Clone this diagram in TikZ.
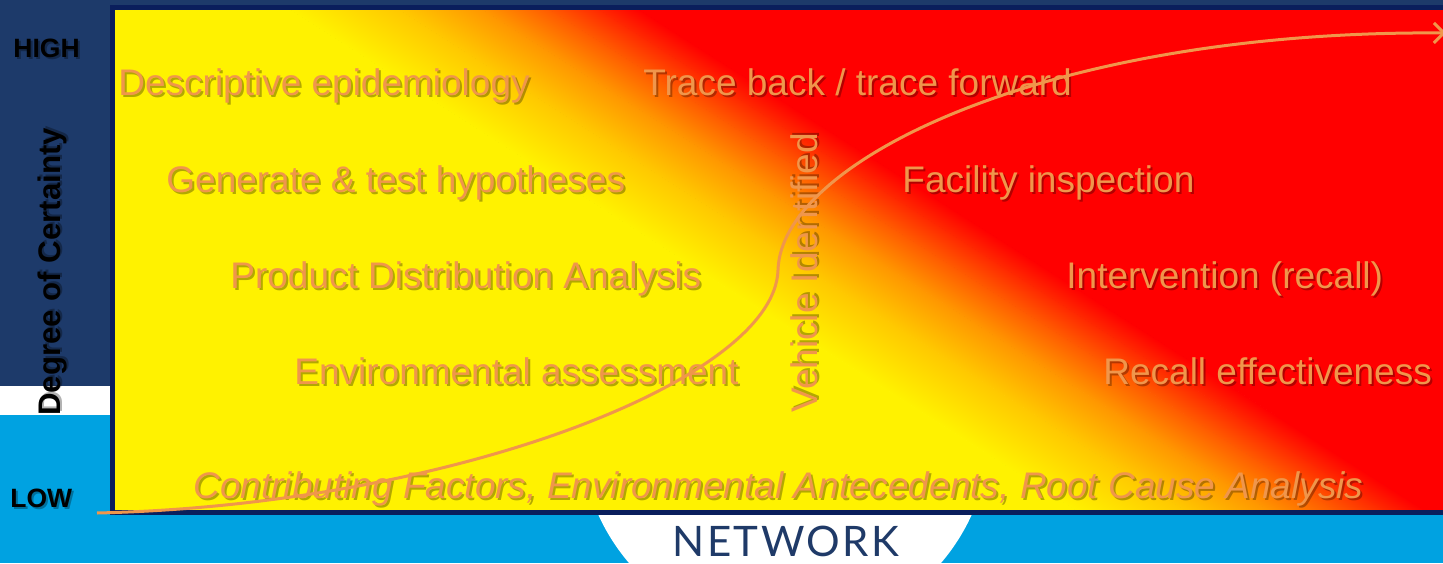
\documentclass[tikz,border=0pt]{standalone}
\usepackage{fontspec}
\setmainfont{Liberation Sans}
\newfontfamily\netfont[LetterSpace=6]{Lato}
\usetikzlibrary{positioning,arrows.meta}

\definecolor{navybg}{RGB}{29,58,106}
\definecolor{navyline}{RGB}{10,30,92}
\definecolor{skyblue}{RGB}{0,162,225}
\definecolor{gradyellow}{RGB}{255,242,0}
\definecolor{fadeA}{RGB}{255,200,0}
\definecolor{fadeB}{RGB}{255,150,0}
\definecolor{fadeC}{RGB}{255,90,0}
\definecolor{fadeD}{RGB}{255,40,0}
\definecolor{gradred}{RGB}{255,0,0}
\definecolor{stagetext}{RGB}{240,150,75}
\definecolor{netblue}{RGB}{31,58,104}

\newcommand{\shadowed}[1]{\leavevmode\rlap{\kern1pt\raisebox{-1pt}{\pgfsetfillopacity{0.3}\color{black}#1}}\pgfsetfillopacity{1}#1}

\begin{document}
\begin{tikzpicture}[x=0.5pt,y=0.5pt,
  stage/.style={anchor=base west,inner sep=0pt,text=stagetext,font=\fontsize{18.5}{22}\selectfont},
  axislabel/.style={anchor=base west,inner sep=0pt,text=black,font=\bfseries\fontsize{13.25}{16}\selectfont}]
  \useasboundingbox (0,0) rectangle (1443,563);
  % backdrop
  \fill[navybg] (0,177) rectangle (1443,563);
  \fill[white] (0,148) rectangle (110,177);
  \fill[skyblue] (0,0) rectangle (1443,148);
  \fill[white] (785,133) circle (205);
  % gradient panel
  \begin{scope}
    \clip (115,53) rectangle (1460,553);
    \begin{scope}[transform canvas={shift={(640,553)},rotate=57.5}]
      \fill[gradyellow] (-3000,-3000) rectangle (-187.5,3000);
      \foreach \from/\to/\cfrom/\cto in {-188/-129/gradyellow/fadeA,-129.5/-84/fadeA/fadeB,-84.5/-48/fadeB/fadeC,-48.5/-21.5/fadeC/fadeD,-22/0/fadeD/gradred}
        \shade[left color=\cfrom,right color=\cto] (\from,-3000) rectangle (\to,3000);
      \fill[gradred] (-0.5,-3000) rectangle (3000,3000);
    \end{scope}
  \end{scope}
  \draw[navyline,line width=2.5pt] (112.5,50.5) rectangle (1470,555.5);

  % axis labels
  \node[axislabel] (high) at (13,505) {\shadowed{HIGH}};
  \node[axislabel] (low) at (10,56) {\shadowed{LOW}};
  \node[axislabel,rotate=90,font=\bfseries\fontsize{15.6}{18}\selectfont] (certainty) at (60,147) {\shadowed{Degree of Certainty}};

  % investigation steps
  \node[stage] (descriptive) at (118,467) {\shadowed{Descriptive epidemiology}};
  \node[stage] (hypotheses) at (166,371) {\shadowed{Generate \& test hypotheses}};
  \node[stage] (distribution) at (230,275) {\shadowed{Product Distribution Analysis}};
  \node[stage] (assessment) at (294,179) {\shadowed{Environmental assessment}};
  \node[stage] (traceback) at (643,467) {\shadowed{Trace back / trace forward}};
  \node[stage] (inspection) at (902,371) {\shadowed{Facility inspection}};
  \node[stage] (intervention) at (1066,275) {\shadowed{Intervention (recall)}};
  \node[stage] (effectiveness) at (1103,179) {\shadowed{Recall effectiveness}};
  \node[stage,font=\itshape\fontsize{18.5}{22}\selectfont] (factors) at (193,65) {\shadowed{Contributing Factors, Environmental Antecedents, Root Cause Analysis}};
  \node[stage,rotate=90] (vehicle) at (817,150) {\shadowed{Vehicle Identified}};
  \node[anchor=base,inner sep=0pt,text=netblue,font=\netfont\fontsize{21}{25}\selectfont] (network) at (786,7) {NETWORK};

  % certainty curve
  \coordinate (curvestart) at (97,50);
  \coordinate (curvebend) at (778,293);
  \coordinate (curveend) at (1446,530);
  \draw[stagetext,line width=1.5pt,-{Straight Barb[length=5pt,width=10pt]}] (curvestart) .. controls (450,58) and (775,183) .. (curvebend) .. controls (781,403) and (1050,533) .. (curveend);
\end{tikzpicture}
\end{document}
